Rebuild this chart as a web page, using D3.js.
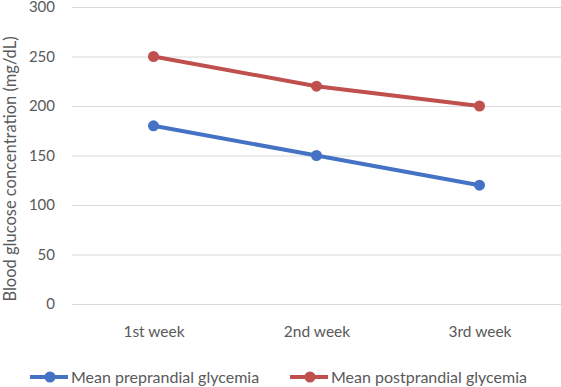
<!DOCTYPE html>
<html>
<head>
<meta charset="utf-8">
<script src="https://cdn.jsdelivr.net/npm/d3@7"></script>
<style>
  body { margin: 0; background: #fff; }
  text { font-family: Lato, 'Open Sans', sans-serif; fill: #595959; }
</style>
</head>
<body>
<div id="chart"></div>
<script>
const weeks = ['1st week', '2nd week', '3rd week']
const preprandial = [180, 150, 120]
const postprandial = [250, 220, 200]
const yTicks = [0, 50, 100, 150, 200, 250, 300]
const seriesNames = ['Mean preprandial glycemia', 'Mean postprandial glycemia']
const colors = ['#4472C4', '#C0504D']

const margin = { top: 7, left: 72, right: 0, bottom: 83 }
const width = 561 - margin.left - margin.right
const height = 387 - margin.top - margin.bottom

const svg = d3
  .select('#chart')
  .append('svg')
  .attr('width', 561)
  .attr('height', 387)

const g = svg
  .append('g')
  .attr('transform', 'translate(' + margin.left + ',' + margin.top + ')')

const xPositionScale = d3
  .scalePoint()
  .domain(weeks)
  .range([0, width])
  .padding(0.5)

const yPositionScale = d3
  .scaleLinear()
  .domain([0, 300])
  .range([height, 0])

// gridlines + y labels
const yAxis = d3
  .axisLeft(yPositionScale)
  .tickValues(yTicks)
  .tickSize(-width)
  .tickPadding(17)
g.append('g')
  .attr('class', 'axis y-axis')
  .call(yAxis)
g.select('.y-axis .domain').remove()
g.selectAll('.y-axis line').attr('stroke', '#d9d9d9').attr('stroke-width', 1)
g.selectAll('.y-axis text')
  .attr('font-size', 15)
  .attr('fill', '#595959')
  .style('font-family', 'Lato, sans-serif')

const xAxis = d3.axisBottom(xPositionScale).tickSize(0).tickPadding(22)
g.append('g')
  .attr('class', 'axis x-axis')
  .attr('transform', 'translate(0,' + height + ')')
  .call(xAxis)
g.select('.x-axis .domain').remove()
g.selectAll('.x-axis text')
  .attr('font-size', 15.5)
  .attr('fill', '#595959')
  .style('font-family', 'Lato, sans-serif')

const line = d3
  .line()
  .x((d, i) => xPositionScale(weeks[i]))
  .y(d => yPositionScale(d))

const allSeries = [preprandial, postprandial]
allSeries.forEach((values, s) => {
  g.append('path')
    .datum(values)
    .attr('d', line)
    .attr('stroke', colors[s])
    .attr('stroke-width', 4)
    .attr('fill', 'none')
  g.selectAll('.dot-' + s)
    .data(values)
    .enter()
    .append('circle')
    .attr('class', 'dot-' + s)
    .attr('cx', (d, i) => xPositionScale(weeks[i]))
    .attr('cy', d => yPositionScale(d))
    .attr('r', 5.5)
    .attr('fill', colors[s])
})

// y title
svg
  .append('text')
  .text('Blood glucose concentration (mg/dL)')
  .attr('transform', 'translate(16,169) rotate(-90)')
  .attr('text-anchor', 'middle')
  .attr('font-size', 16.5)

// legend
const legendX = [30, 290]
seriesNames.forEach((name, s) => {
  const lg = svg.append('g').attr('transform', 'translate(' + legendX[s] + ',377)')
  lg.append('line')
    .attr('x1', 0)
    .attr('x2', 38)
    .attr('stroke', colors[s])
    .attr('stroke-width', 4)
  lg.append('circle')
    .attr('cx', 20)
    .attr('r', 5.5)
    .attr('fill', colors[s])
  lg.append('text')
    .text(name)
    .attr('x', 41)
    .attr('dy', '0.35em')
    .attr('font-size', 16)
})
</script>
</body>
</html>
